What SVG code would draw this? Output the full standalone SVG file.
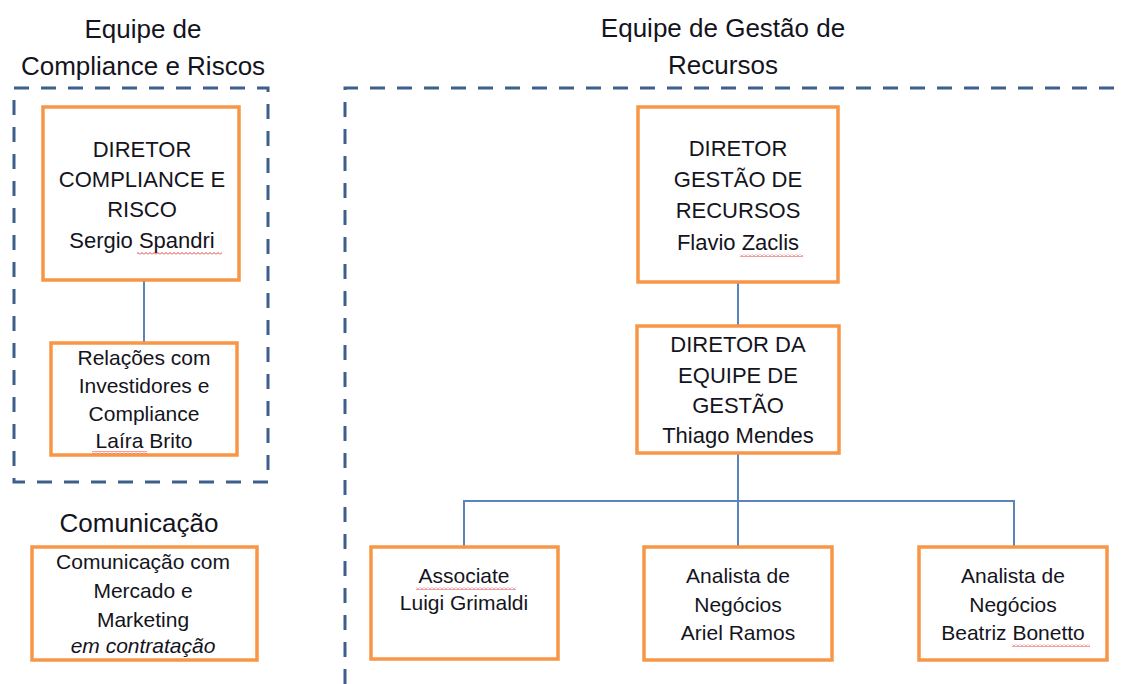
<svg xmlns="http://www.w3.org/2000/svg" width="1121" height="684" viewBox="0 0 1121 684">
<defs>
<style>
.bg{fill:#ffffff}
.team{fill:none;stroke:#3d5f8c;stroke-width:3;stroke-dasharray:15 12}
.node{fill:#ffffff;stroke:#f79646;stroke-width:3.5}
.conn{fill:none;stroke:#5b84bf;stroke-width:2}
text{font-family:"Liberation Sans",Arial,sans-serif;fill:#141420;text-anchor:middle}
.title{font-size:26px}
.big{font-size:22px}
.small{font-size:21px}
.it{font-style:italic}
.wave{fill:url(#wave)}
</style>
<pattern id="wave" width="4" height="3" patternUnits="userSpaceOnUse">
<path d="M0 2.5 L2 0.5 L4 2.5" fill="none" stroke="#e0403c" stroke-width="1"/>
</pattern>
</defs>
<rect class="bg" x="0" y="0" width="1121" height="684"/>

<g id="titles">
<text class="title" x="143" y="38">Equipe de</text>
<text class="title" x="143" y="75">Compliance e Riscos</text>
<text class="title" x="723" y="37">Equipe de Gestão de</text>
<text class="title" x="723" y="74">Recursos</text>
<text class="title" x="139" y="532">Comunicação</text>
</g>

<g id="teams">
<rect class="team" x="14" y="88" width="254" height="394"/>
<path class="team" d="M345 684 L345 88 L1121 88"/>
</g>

<g id="connectors">
<line class="conn" x1="144" y1="281" x2="144" y2="343"/>
<line class="conn" x1="738" y1="282" x2="738" y2="326"/>
<line class="conn" x1="738" y1="453" x2="738" y2="501"/>
<path class="conn" d="M464 547 L464 501 L1014 501 L1014 547"/>
<line class="conn" x1="738" y1="501" x2="738" y2="547"/>
</g>

<g id="node-diretor-compliance">
<rect class="node" x="43" y="107" width="196" height="173"/>
<text class="big" x="142" y="157">DIRETOR</text>
<text class="big" x="142" y="187">COMPLIANCE E</text>
<text class="big" x="142" y="217">RISCO</text>
<text class="big" x="142" y="248">Sergio Spandri</text>
<rect class="wave" x="137" y="252" width="85" height="3"/>
</g>

<g id="node-relacoes">
<rect class="node" x="51" y="343" width="186" height="112"/>
<text class="small" x="144" y="365">Relações com</text>
<text class="small" x="144" y="393">Investidores e</text>
<text class="small" x="144" y="421">Compliance</text>
<text class="small" x="144" y="448">Laíra Brito</text>
<rect class="wave" x="92" y="451" width="55" height="3"/>
</g>

<g id="node-comunicacao">
<rect class="node" x="32" y="547" width="225" height="113"/>
<text class="small" x="143" y="569">Comunicação com</text>
<text class="small" x="143" y="598">Mercado e</text>
<text class="small" x="143" y="627">Marketing</text>
<text class="small it" x="143" y="653">em contratação</text>
</g>

<g id="node-diretor-gestao">
<rect class="node" x="638" y="107" width="200" height="175"/>
<text class="big" x="738" y="156">DIRETOR</text>
<text class="big" x="738" y="187">GESTÃO DE</text>
<text class="big" x="738" y="218">RECURSOS</text>
<text class="big" x="738" y="250">Flavio Zaclis</text>
<rect class="wave" x="740" y="254" width="63" height="3"/>
</g>

<g id="node-diretor-equipe">
<rect class="node" x="637" y="326" width="202" height="127"/>
<text class="big" x="738" y="352">DIRETOR DA</text>
<text class="big" x="738" y="383">EQUIPE DE</text>
<text class="big" x="738" y="413">GESTÃO</text>
<text class="big" x="738" y="443">Thiago Mendes</text>
</g>

<g id="node-associate">
<rect class="node" x="371" y="547" width="187" height="112"/>
<text class="small" x="464" y="583">Associate</text>
<text class="small" x="464" y="610">Luigi Grimaldi</text>
<rect class="wave" x="416" y="587" width="100" height="3"/>
</g>

<g id="node-analista-ariel">
<rect class="node" x="644" y="547" width="188" height="113"/>
<text class="small" x="738" y="583">Analista de</text>
<text class="small" x="738" y="612">Negócios</text>
<text class="small" x="738" y="640">Ariel Ramos</text>
</g>

<g id="node-analista-beatriz">
<rect class="node" x="919" y="547" width="188" height="113"/>
<text class="small" x="1013" y="583">Analista de</text>
<text class="small" x="1013" y="612">Negócios</text>
<text class="small" x="1013" y="640">Beatriz Bonetto</text>
<rect class="wave" x="1012" y="644" width="78" height="3"/>
</g>
</svg>
